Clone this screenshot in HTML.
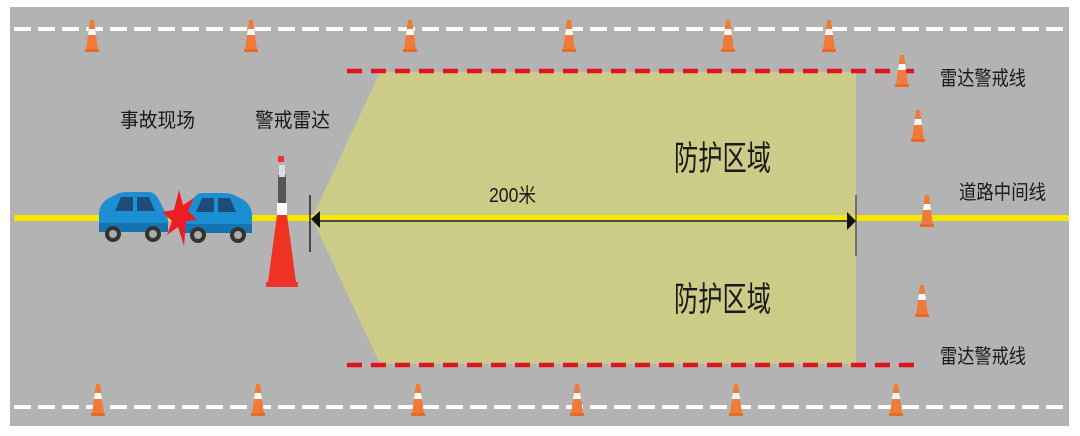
<!DOCTYPE html>
<html><head><meta charset="utf-8"><style>
html,body{margin:0;padding:0;background:#fff;width:1080px;height:436px;overflow:hidden}
svg{display:block}
text{font-family:"Liberation Sans","Noto Sans CJK SC",sans-serif;fill:#1a1a1a}
</style></head><body>
<svg width="1080" height="436" viewBox="0 0 1080 436" xmlns="http://www.w3.org/2000/svg">
<defs>
<g id="cone">
<polygon points="-2,0 2,0 6,30 -6,30" fill="#f07a3a"/>
<polygon points="-3,9 3,9 4,15 -4,15" fill="#fff"/>
<rect x="-7" y="29" width="14" height="3" fill="#e86a2a"/>
</g>
<g id="car">
<path d="M0,40 L0,20 Q2,10 10,6 L18,2 Q22,0 30,0 L50,0 Q56,0 60,8 L66,20 Q69,24 69,30 L69,40 Z" fill="#1b8fd2"/>
<path d="M22,5 L34,5 L34,19 L16,19 Z" fill="#1d4e7a"/>
<path d="M38,5 L50,5 L56,19 L38,19 Z" fill="#1d4e7a"/>
<rect x="0" y="31" width="69" height="9" fill="#1473b0"/>
<circle cx="14" cy="42" r="8" fill="#333"/><circle cx="14" cy="42" r="4" fill="#aaa"/>
<circle cx="54" cy="42" r="8" fill="#333"/><circle cx="54" cy="42" r="4" fill="#aaa"/>
</g>
</defs>
<rect x="10" y="7" width="1059" height="419" fill="#b3b3b3"/>
<line x1="14" y1="29" x2="1069" y2="29" stroke="#fff" stroke-width="4" stroke-dasharray="17,7"/>
<line x1="14" y1="407" x2="1069" y2="407" stroke="#fff" stroke-width="4" stroke-dasharray="17,7"/>
<rect x="14" y="215" width="1055" height="6" fill="#f5e800"/>
<polygon points="380,72 856,72 856,364 380,364 312,218" fill="#cccb88"/>
<rect x="312" y="215" width="544" height="5" fill="#f5e800"/>
<line x1="314" y1="221" x2="852" y2="221" stroke="#222" stroke-width="1.5"/>
<line x1="310" y1="195" x2="310" y2="252" stroke="#222" stroke-width="1.5"/>
<line x1="856" y1="195" x2="856" y2="256" stroke="#555" stroke-width="1.5"/>
<polygon points="311,219 320,211 320,228" fill="#111"/>
<polygon points="856,221 847,212 847,230" fill="#111"/>
<line x1="347" y1="71" x2="922" y2="71" stroke="#e0141e" stroke-width="4.5" stroke-dasharray="15,9"/>
<line x1="347" y1="365" x2="922" y2="365" stroke="#e0141e" stroke-width="4.5" stroke-dasharray="15,9"/>
<use href="#cone" x="92" y="20"/><use href="#cone" x="251" y="20"/><use href="#cone" x="410" y="20"/>
<use href="#cone" x="569" y="20"/><use href="#cone" x="728" y="20"/><use href="#cone" x="829" y="20"/>
<use href="#cone" x="902" y="55"/><use href="#cone" x="918" y="110"/><use href="#cone" x="927" y="195"/><use href="#cone" x="922" y="285"/>
<use href="#cone" x="98" y="384"/><use href="#cone" x="258" y="384"/><use href="#cone" x="418" y="384"/>
<use href="#cone" x="577" y="384"/><use href="#cone" x="736" y="384"/><use href="#cone" x="896" y="384"/>
<use href="#car" x="99" y="192"/>
<g transform="translate(252,193) scale(-1,1)"><use href="#car" x="0" y="0"/></g>
<polygon points="179,190 183,205 194,198 188,211 197,220 186,221 184,246 178,227 167,235 172,221 162,212 174,210" fill="#ee1c25"/>
<polygon points="277,215 287,215 296,282 268,282" fill="#ee3322"/>
<rect x="277" y="203" width="10" height="12" fill="#fff"/>
<rect x="278" y="175" width="8" height="28" fill="#555"/>
<rect x="279" y="165" width="6" height="12" fill="#ddd"/>
<rect x="278" y="156" width="6" height="6" fill="#e33"/>
<rect x="266" y="282" width="32" height="5" fill="#e33"/>
<text x="120" y="127" font-size="20" textLength="75" lengthAdjust="spacingAndGlyphs">事故现场</text>
<text x="255" y="127" font-size="20" textLength="75" lengthAdjust="spacingAndGlyphs">警戒雷达</text>
<text x="489" y="202" font-size="20" textLength="47" lengthAdjust="spacingAndGlyphs">200米</text>
<text x="674" y="170" font-size="34" textLength="97" lengthAdjust="spacingAndGlyphs">防护区域</text>
<text x="674" y="311" font-size="34" textLength="97" lengthAdjust="spacingAndGlyphs">防护区域</text>
<text x="940" y="85" font-size="20" textLength="86" lengthAdjust="spacingAndGlyphs">雷达警戒线</text>
<text x="940" y="363" font-size="20" textLength="86" lengthAdjust="spacingAndGlyphs">雷达警戒线</text>
<text x="959" y="199" font-size="20" textLength="87" lengthAdjust="spacingAndGlyphs">道路中间线</text>
</svg>
</body></html>
